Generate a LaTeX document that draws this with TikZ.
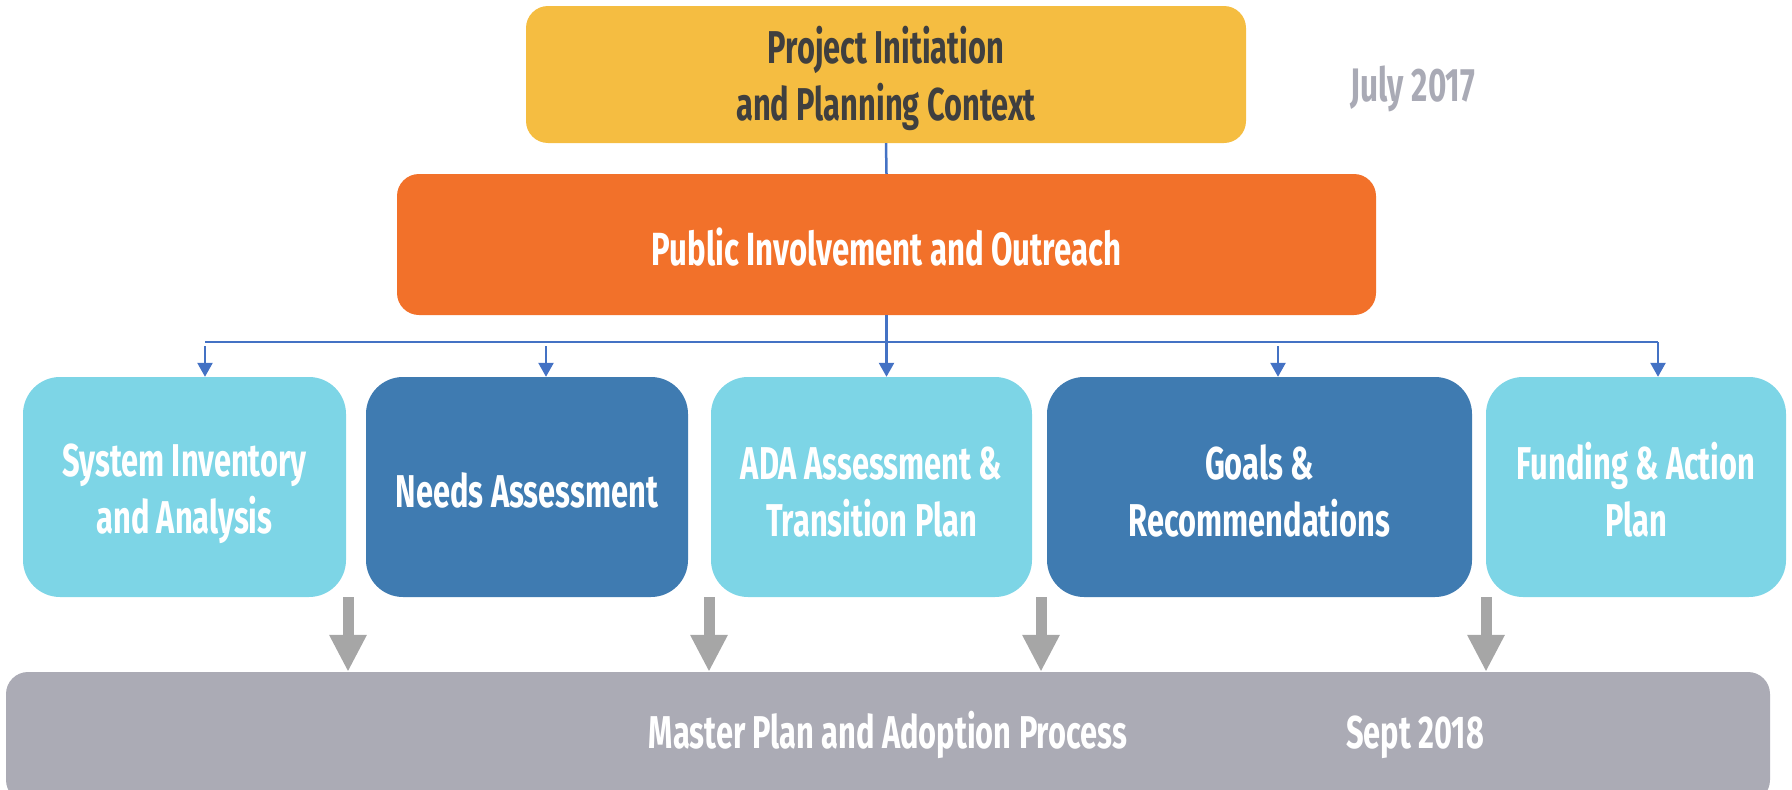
\documentclass[tikz,border=0pt]{standalone}
\usepackage{fontspec}
\setmainfont{Fira Sans}[FakeStretch=0.67]
\usetikzlibrary{arrows.meta}
\definecolor{cYellow}{HTML}{F5BD41}
\definecolor{cOrange}{HTML}{F2712A}
\definecolor{cLight}{HTML}{7DD5E6}
\definecolor{cDark}{HTML}{3F7BB1}
\definecolor{cGrayBox}{HTML}{ABABB5}
\definecolor{cGrayArrow}{HTML}{A6A6A6}
\definecolor{cBlue}{HTML}{4472C4}
\definecolor{cText}{HTML}{3F3F3F}
\definecolor{cDate}{HTML}{A9AAB5}
\newcommand\bs{\rule[-5pt]{0pt}{51pt}}
\tikzset{
  box/.style={rectangle, inner sep=0pt, align=center, text=white,
    font=\bfseries\fontsize{46}{57}\selectfont},
  rowbox/.style={box, rounded corners=37pt, minimum height=220pt},
  blueline/.style={draw=cBlue, line width=2.5pt},
  bluearrow/.style={blueline, -{Triangle[width=15pt,length=14pt]}},
  grayarrow/.style={draw=cGrayArrow, line width=11pt, -{Triangle[width=35pt,length=37pt]}, shorten >=0pt},
  datelabel/.style={inner sep=0pt, text=cDate, font=\bfseries\fontsize{47}{57}\selectfont}
}
\begin{document}
\begin{tikzpicture}[x=1pt,y=-1pt]
\useasboundingbox (0,0) rectangle (1792,790);
% top
\node[box, fill=cYellow, text=cText, rounded corners=22pt, minimum width=720pt, minimum height=137pt] (top) at (886,74.5) {\bs Project Initiation\\\bs and Planning Context};
\node[datelabel] (july) at (1413,84) {\bs July 2017};
% public
\node[box, fill=cOrange, rounded corners=22pt, minimum width=979pt, minimum height=141pt,
  font=\bfseries\fontsize{46.5}{57}\selectfont] (pub) at (886.5,244.5) {\bs Public Involvement and Outreach};
% row
\node[rowbox, fill=cLight, minimum width=323pt] (b1) at (184.5,487) {\bs System Inventory\\\bs and Analysis};
\node[rowbox, fill=cDark, minimum width=322pt] (b2) at (527,487) {\bs Needs Assessment};
\node[rowbox, fill=cLight, minimum width=321pt] (b3) at (871.5,487) {\bs ADA Assessment \&\\\bs Transition Plan};
\node[rowbox, fill=cDark, minimum width=425pt] (b4) at (1259.5,487) {\bs Goals \&\\\bs Recommendations};
\node[rowbox, fill=cLight, minimum width=300pt] (b5) at (1636,487) {\bs Funding \& Action\\\bs Plan};
% bottom
\node[box, fill=cGrayBox, rounded corners=22pt, minimum width=1764pt, minimum height=130pt] (bot) at (888,737) {};
\node[box] (mp) at (888,731) {\bs Master Plan and Adoption Process};
\node[box] (sept) at (1415,731) {\bs Sept 2018};
% blue connectors
\draw[blueline] (top.south) -- (pub.north);
\coordinate (hl) at (205,342);
\coordinate (hr) at (1658,342);
\draw[blueline] (hl) -- (hr);
\draw[bluearrow] (pub.south) -- (pub.south |- b3.north);
\coordinate (s1) at (205,346);
\coordinate (s2) at (546,346);
\coordinate (s4) at (1278,346);
\coordinate (s5) at (1658,342);
\draw[bluearrow] (s1) -- (s1 |- b1.north);
\draw[bluearrow] (s2) -- (s2 |- b2.north);
\draw[bluearrow] (s4) -- (s4 |- b4.north);
\draw[bluearrow] (s5) -- (s5 |- b5.north);
% gray arrows
\coordinate (g1) at (348,597);
\coordinate (g2) at (709,597);
\coordinate (g3) at (1041,597);
\coordinate (g4) at (1486,597);
\draw[grayarrow] (g1) -- (g1 |- bot.north);
\draw[grayarrow] (g2) -- (g2 |- bot.north);
\draw[grayarrow] (g3) -- (g3 |- bot.north);
\draw[grayarrow] (g4) -- (g4 |- bot.north);
\end{tikzpicture}
\end{document}
